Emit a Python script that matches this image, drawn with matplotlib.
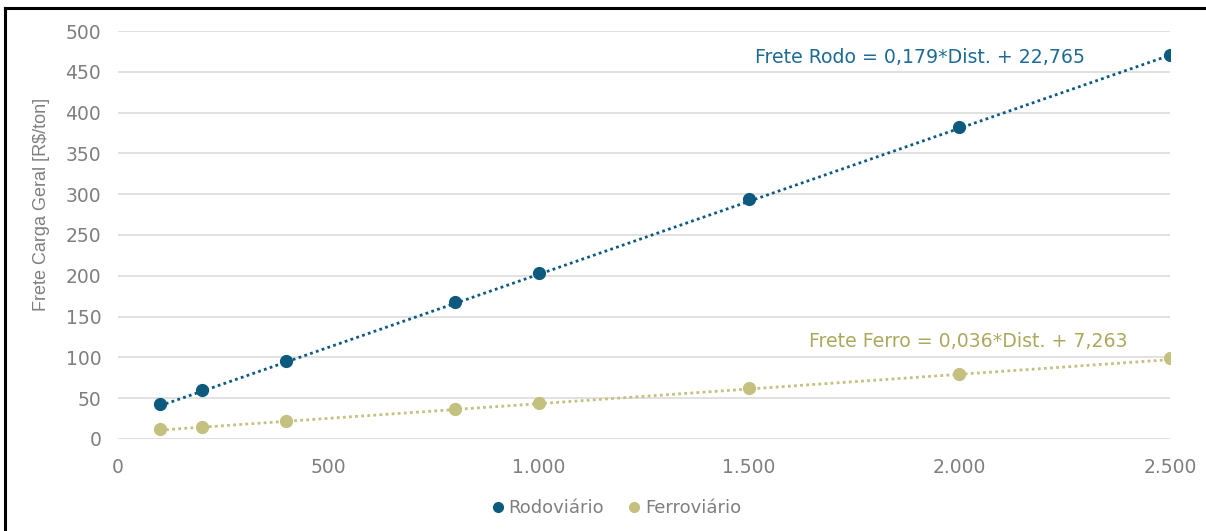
import numpy as np
import matplotlib.pyplot as plt
from matplotlib.ticker import FuncFormatter
from matplotlib.lines import Line2D

# distances (km) and freight values (R$/ton)
dist = [100, 200, 400, 800, 1000, 1500, 2000, 2500]
rodo = [43, 60, 96, 168, 203, 294, 382, 470]
ferro = [12, 15, 22, 37, 44, 62, 80, 99]

# fitted trendlines: slope, intercept
rodo_fit = (0.179, 22.765)
ferro_fit = (0.036, 7.263)

blue = '#0e5a7e'
olive = '#c4c07f'
grey = '#7f7f7f'

plt.rcParams['font.family'] = ['DejaVu Sans']

fig = plt.figure(figsize=(12.06, 5.31), dpi=100)
ax = fig.add_axes([0.0978, 0.1733, 0.8722, 0.7683])

xs = np.array([dist[0], dist[-1]])
ax.plot(xs, rodo_fit[0] * xs + rodo_fit[1], ls=(0, (1, 1.2)), lw=2, color=blue, zorder=2)
ax.plot(xs, ferro_fit[0] * xs + ferro_fit[1], ls=(0, (1, 1.2)), lw=2, color=olive, zorder=2)
ax.plot(dist, rodo, 'o', ms=8.5, color=blue, zorder=3)
ax.plot(dist, ferro, 'o', ms=8.5, color=olive, zorder=3)

ax.text(1906, 467, 'Frete Rodo = 0,179*Dist. + 22,765', color='#1d6b93',
        fontsize=13.6, ha='center', va='center')
ax.text(2020, 119, 'Frete Ferro = 0,036*Dist. + 7,263', color='#aca85c',
        fontsize=13.6, ha='center', va='center')

ax.set_xlim(0, 2500)
ax.set_ylim(0, 500)
ax.set_xticks([0, 500, 1000, 1500, 2000, 2500])
ax.set_yticks(range(0, 501, 50))
ax.xaxis.set_major_formatter(FuncFormatter(lambda v, p: f'{int(v):,}'.replace(',', '.')))
ax.grid(axis='y', color='#dcdcdc', lw=1.2)
ax.set_axisbelow(True)
for s in ax.spines.values():
    s.set_visible(False)
ax.tick_params(length=0, labelsize=13.5, labelcolor=grey)
ax.tick_params(axis='x', pad=14)
ax.tick_params(axis='y', pad=12)
ax.set_ylabel('Frete Carga Geral [R$/ton]', fontsize=13, color=grey,
              family=['Liberation Sans', 'DejaVu Sans'])
ax.yaxis.set_label_coords(-0.065, 0.574)

handles = [Line2D([], [], ls='', marker='o', ms=7, color=blue),
           Line2D([], [], ls='', marker='o', ms=7, color=olive)]
fig.legend(handles, ['Rodoviário', 'Ferroviário'], loc='center', bbox_to_anchor=(0.5105, 0.043),
           ncol=2, frameon=False, fontsize=13, labelcolor=grey,
           handlelength=0.8, handletextpad=0.2, columnspacing=1.25)

# frame lines on the left and top edges
fig.add_artist(Line2D([0.0045, 0.0045], [0, 0.985], color='black', lw=2.2))
fig.add_artist(Line2D([0.0045, 1], [0.985, 0.985], color='black', lw=2.2))

fig.savefig('out.png', dpi=100)
